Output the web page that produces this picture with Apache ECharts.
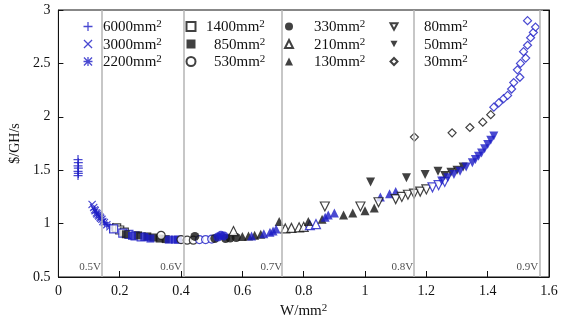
<!DOCTYPE html>
<html><head><meta charset="utf-8">
<script src="https://cdn.jsdelivr.net/npm/echarts@6/dist/echarts.min.js"></script>
<style>html,body{margin:0;padding:0;background:#fff}#c{width:565px;height:328px}</style>
</head><body><div id="c"></div>
<script>
// ---- data ----
const seriesNames = ['6000mm²','3000mm²','2200mm²','1400mm²','850mm²','530mm²','330mm²','210mm²','130mm²','80mm²','50mm²','30mm²'];
const vLineX = [0.144, 0.408, 0.735, 1.162, 1.570];
const vLineLabels = ['0.5V','0.6V','0.7V','0.8V','0.9V'];

const d6000Blue = [[0.064,1.60],[0.065,1.57],[0.064,1.54],[0.065,1.52],[0.064,1.49],[0.065,1.47],[0.064,1.45]];
const d6000Black = [];
const d3000Blue = [[0.110,1.18],[0.115,1.15],[0.120,1.12],[0.126,1.09],[0.132,1.07],[0.138,1.05],[0.145,1.02]];
const d3000Black = [];
const d2200Blue = [[0.118,1.13],[0.124,1.10],[0.130,1.08],[0.136,1.06],[0.142,1.04],[0.150,1.01],[0.158,0.99],[0.168,0.97],[0.178,0.95]];
const d2200Black = [];
const d1400Black = [[0.19,0.96],[0.20,0.94],[0.215,0.92]];
const d1400Blue = [[0.18,0.95],[0.21,0.91],[0.23,0.90],[0.25,0.885],[0.27,0.875]];
const d850Black = [[0.22,0.90],[0.26,0.89],[0.29,0.88],[0.31,0.87],[0.33,0.86],[0.35,0.855]];
const d850Blue = [[0.24,0.885],[0.28,0.875],[0.30,0.86],[0.36,0.85],[0.38,0.85],[0.39,0.85]];
const d530Black = [[0.335,0.89],[0.40,0.85],[0.42,0.845],[0.44,0.845]];
const d530Blue = [[0.46,0.85],[0.48,0.85],[0.50,0.855]];
const d330Black = [[0.445,0.88],[0.51,0.86],[0.545,0.86],[0.56,0.865],[0.58,0.87]];
const d330Blue = [[0.52,0.875],[0.53,0.89],[0.54,0.885]];
const d210Black = [[0.571,0.93],[0.74,0.955],[0.76,0.96],[0.785,0.965],[0.80,0.97]];
const d210Blue = [[0.82,0.985],[0.84,0.995]];
const d130Black = [[0.60,0.88],[0.62,0.885],[0.64,0.89],[0.66,0.90],[0.72,1.02],[0.815,1.02],[0.86,1.04],[0.93,1.08],[0.96,1.10],[1.00,1.12],[1.03,1.145]];
const d130Blue = [[0.63,0.885],[0.67,0.905],[0.69,0.92],[0.70,0.93],[0.71,0.95],[0.87,1.06],[0.88,1.08],[0.90,1.10],[1.05,1.25],[1.08,1.28],[1.10,1.30]];
const d80Black = [[0.869,1.16],[0.985,1.16],[1.044,1.20],[1.10,1.23],[1.12,1.25],[1.14,1.27],[1.16,1.28],[1.18,1.30],[1.20,1.32]];
const d80Blue = [[1.22,1.34],[1.24,1.36],[1.26,1.39]];
const d50Black = [[1.018,1.39],[1.135,1.43],[1.196,1.46],[1.238,1.49],[1.26,1.45],[1.28,1.48],[1.30,1.50],[1.32,1.53]];
const d50Blue = [[1.25,1.40],[1.27,1.43],[1.29,1.46],[1.31,1.49],[1.33,1.53],[1.35,1.57],[1.36,1.60],[1.37,1.63],[1.38,1.66],[1.39,1.70],[1.40,1.74],[1.41,1.78],[1.42,1.82]];
const d30Black = [[1.161,1.81],[1.284,1.85],[1.342,1.90],[1.384,1.95],[1.41,2.02]];
const d30Blue = [[1.42,2.09],[1.436,2.13],[1.452,2.17],[1.465,2.20],[1.478,2.26],[1.485,2.32],[1.505,2.37],[1.497,2.44],[1.507,2.50],[1.524,2.55],[1.517,2.61],[1.53,2.67],[1.54,2.74],[1.549,2.79],[1.556,2.84],[1.530,2.90]];

// ---- styles ----
const BLUE = '#1c1cc6';
const FONT = 'Liberation Serif';
const PLUS = 'path://M4.3,0H5.7V4.3H10V5.7H5.7V10H4.3V5.7H0V4.3H4.3Z';
const CROSS = 'path://M0,1L1,0L5,4L9,0L10,1L6,5L10,9L9,10L5,6L1,10L0,9L4,5Z';
const STAR = 'path://M4.3,0H5.7V10H4.3Z M0,4.3H10V5.7H0Z M0,1L1,0L10,9L9,10Z M9,0L10,1L1,10L0,9Z';
const DOWN = 'path://M0,0L10,0L5,9Z';

const defs = [
  {black:d6000Black, blue:d6000Blue, sym:PLUS, hollow:false, size:9, allBlue:true},
  {black:d3000Black, blue:d3000Blue, sym:CROSS, hollow:false, size:8, allBlue:true},
  {black:d2200Black, blue:d2200Blue, sym:STAR, hollow:false, size:8, allBlue:true},
  {black:d1400Black, blue:d1400Blue, sym:'rect', hollow:true, size:8},
  {black:d850Black, blue:d850Blue, sym:'rect', hollow:false, size:8},
  {black:d530Black, blue:d530Blue, sym:'circle', hollow:true, size:8},
  {black:d330Black, blue:d330Blue, sym:'circle', hollow:false, size:9},
  {black:d210Black, blue:d210Blue, sym:'triangle', hollow:true, size:9},
  {black:d130Black, blue:d130Blue, sym:'triangle', hollow:false, size:9},
  {black:d80Black, blue:d80Blue, sym:DOWN, hollow:true, size:9},
  {black:d50Black, blue:d50Blue, sym:DOWN, hollow:false, size:9},
  {black:d30Black, blue:d30Blue, sym:'diamond', hollow:true, size:8}
];

const series = defs.map((d, i) => {
  const base = d.allBlue ? {color: BLUE}
    : d.hollow ? {color:'#fff', borderColor:'#111', borderWidth:1.2}
    : {color:'#111'};
  const blueStyle = d.hollow ? {borderColor: BLUE} : {color: BLUE};
  return {
    type:'scatter', name: seriesNames[i], symbol: d.sym, symbolSize: d.size,
    itemStyle: base,
    data: d.black.map(p => ({value:p})).concat(d.blue.map(p => ({value:p, itemStyle: blueStyle}))),
    z: 3
  };
});

series.unshift({
  type:'scatter', name:'vlines', silent:true, z:1,
  symbolSize:1, itemStyle:{color:'rgba(0,0,0,0)'},
  data: vLineX.map((x, i) => [x, 0.5, vLineLabels[i]]),
  label:{show:true, formatter: p => p.value[2], position:[-1,-4], align:'right', verticalAlign:'bottom',
    fontFamily: FONT, fontSize: 11, color:'#222'},
  markLine:{silent:true, symbol:['none','none'], label:{show:false},
    lineStyle:{color:'#b4b4b4', width:1.5, type:'solid'}, animation:false,
    data: vLineX.map(x => ({xAxis:x}))}
});

const supRich = {
  a:{fontFamily:FONT, fontSize:15, color:'#111', lineHeight:17},
  s:{fontFamily:FONT, fontSize:11, color:'#111', lineHeight:11, verticalAlign:'top'}
};
const supFmt = name => '{a|' + name.replace('²','') + '}{s|2}';
const legendCommon = {orient:'vertical', padding:0, itemGap:1.5, top:19,
  formatter: supFmt,
  textStyle:{fontFamily:FONT, fontSize:15, color:'#111', rich: supRich}, selectedMode:false};
const pad = (n, l) => ({name:n, icon: defs[seriesNames.indexOf(n)].sym, textStyle:{padding:[2,0,0,l], rich: supRich}});
const legends = [
  Object.assign({left:83.5, itemWidth:9, itemHeight:9, data: seriesNames.slice(0,3).map(n => pad(n,5.5))}, legendCommon),
  Object.assign({left:185.5, itemWidth:9, itemHeight:9, data: [pad(seriesNames[3],5.5), pad(seriesNames[4],13.5), pad(seriesNames[5],13.5)]}, legendCommon),
  Object.assign({left:284, itemWidth:8, itemHeight:8, data: seriesNames.slice(6,9).map(n => pad(n,16))}, legendCommon),
  Object.assign({left:389.5, itemWidth:7, itemHeight:7, data: seriesNames.slice(9,12).map(n => pad(n,21.5))}, legendCommon)
];

const axisLabel = {fontFamily:FONT, fontSize:14, color:'#111'};
const option = {
  animation:false,
  backgroundColor:'#fff',
  grid:{left:55, right:16, top:10, bottom:51, show:true, borderColor:'#111', borderWidth:1, backgroundColor:'transparent'},
  legend: legends,
  xAxis:{type:'value', min:0, max:1.6, interval:0.2, name:'{a|W/mm}{s|2}', nameLocation:'middle', nameGap:23,
    nameTextStyle:{fontFamily:FONT, fontSize:15, color:'#111', rich:{
      a:{fontFamily:FONT, fontSize:15, color:'#111', lineHeight:17},
      s:{fontFamily:FONT, fontSize:11, color:'#111', lineHeight:11, verticalAlign:'top'}}},
    axisLine:{show:true, lineStyle:{color:'#111'}}, axisTick:{show:true, inside:true, length:6, lineStyle:{color:'#111'}},
    axisLabel:Object.assign({margin:7}, axisLabel), splitLine:{show:false}},
  yAxis:[
    {type:'value', min:0.5, max:3, interval:0.5, name:'$/GH/s', nameLocation:'middle', nameGap:30, nameRotate:90,
    nameTextStyle:{fontFamily:FONT, fontSize:14, color:'#111'},
    axisLine:{show:true, lineStyle:{color:'#111'}}, axisTick:{show:true, inside:true, length:5, lineStyle:{color:'#111'}},
    axisLabel:Object.assign({margin:8}, axisLabel), splitLine:{show:false}},
    {type:'value', min:0.5, max:3, interval:0.5, position:'right',
    axisLine:{show:true, lineStyle:{color:'#111'}}, axisTick:{show:true, inside:true, length:6, lineStyle:{color:'#111'}},
    axisLabel:{show:false}, splitLine:{show:false}}
  ],
  series: series
};
const chart = echarts.init(document.getElementById('c'), null, {renderer:'canvas'});
chart.setOption(option);
</script>
</body></html>
